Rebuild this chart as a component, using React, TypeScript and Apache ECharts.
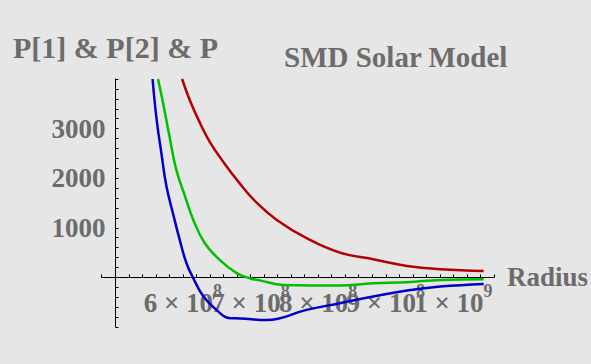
import React, { useEffect, useRef } from "react";
import * as echarts from "echarts";

// Radius values (m) and pressure values
const redRadius = [5.985e8, 6.1e8, 6.25e8, 6.39e8, 6.59e8, 6.84e8, 7.08e8, 7.38e8, 7.82e8, 8.31e8, 8.8e8, 9.3e8, 9.79e8, 10.43e8];
const redValues = [4000, 3568, 3109, 2738, 2334, 1885, 1512, 1159, 790, 500, 367, 232, 165, 131];

const greenRadius = [5.63e8, 5.705e8, 5.8e8, 5.9e8, 6.03e8, 6.15e8, 6.32e8, 6.54e8, 6.79e8, 6.98e8, 7.13e8, 7.48e8, 8.31e8, 8.8e8, 9.3e8, 9.79e8, 10.43e8];
const greenValues = [4000, 3512, 2838, 2167, 1629, 1159, 689, 353, 85, -16, -60, -151, -165, -117, -97, -50, -36];

const blueRadius = [5.55e8, 5.61e8, 5.68e8, 5.755e8, 5.85e8, 5.95e8, 6.05e8, 6.15e8, 6.3e8, 6.49e8, 6.69e8, 6.84e8, 7.23e8, 7.82e8, 8.31e8, 8.8e8, 9.3e8, 9.79e8, 10.43e8];
const blueValues = [4000, 3175, 2504, 1831, 1294, 756, 286, -16, -387, -655, -823, -827, -857, -655, -520, -387, -266, -185, -131];

const xTickValues = [6e8, 7e8, 8e8, 9e8, 1e9];
const xTickMantissas = ["6", "7", "8", "9", "1"];
const xTickExponents = ["8", "8", "8", "8", "9"];
const yTickLabels = [1000, 2000, 3000];

const TEXT = "#6c6c6c";
const FONT = "Liberation Serif";

function zip(xs: number[], ys: number[]) {
  return xs.map((x, i) => [x, ys[i]]);
}

export default function App() {
  const ref = useRef<HTMLDivElement>(null);
  useEffect(() => {
    if (!ref.current) return;
    const chart = echarts.init(ref.current, null, { renderer: "svg" });
    const line = (name: string, color: string, xs: number[], ys: number[]) => ({
      name,
      type: "line",
      xAxisIndex: 0,
      yAxisIndex: 0,
      data: zip(xs, ys),
      showSymbol: false,
      smooth: 0.45,
      clip: true,
      lineStyle: { color, width: 2.5 },
      itemStyle: { color },
    });
    chart.setOption({
      animation: false,
      backgroundColor: "#e6e6e6",
      title: {
        text: "SMD Solar Model",
        left: 284,
        top: 42,
        padding: 0,
        textStyle: { fontFamily: FONT, fontWeight: "bold", fontSize: 29, color: TEXT },
      },
      grid: [
        // plotting area (from -1000 to 4000)
        { left: 101.7, top: 79, width: 393.5, height: 248 },
        // vertical axis
        { left: 115.5, top: 79, width: 1, height: 248 },
        // horizontal axis, whose bottom edge is the zero line
        { left: 101.7, top: 79, width: 393.5, height: 198.4 },
      ],
      xAxis: [
        { gridIndex: 0, type: "value", min: 4.8e8, max: 10.6e8, show: false },
        { gridIndex: 1, type: "value", min: 0, max: 1, show: false },
        {
          gridIndex: 2,
          type: "value",
          position: "bottom",
          min: 4.8e8,
          max: 10.6e8,
          interval: 2e7,
          axisLine: { onZero: false, lineStyle: { color: "#000", width: 1 } },
          axisTick: { inside: true, length: 3, lineStyle: { color: "#000" } },
          splitLine: { show: false },
          axisLabel: {
            margin: 5,
            formatter: (v: number) => {
              const i = xTickValues.findIndex((t) => Math.abs(t - v) < 1e6);
              if (i < 0) return "";
              return `{m|${xTickMantissas[i]} × 10}{e|${xTickExponents[i]}}`;
            },
            rich: {
              m: { fontFamily: FONT, fontWeight: "bold", fontSize: 27, color: TEXT, verticalAlign: "bottom", lineHeight: 34 },
              e: { fontFamily: FONT, fontWeight: "bold", fontSize: 18, color: TEXT, verticalAlign: "top", lineHeight: 6 },
            },
          },
          name: "Radius",
          nameLocation: "end",
          nameGap: 13,
          nameTextStyle: { fontFamily: FONT, fontWeight: "bold", fontSize: 27, color: TEXT, verticalAlign: "middle" },
        },
      ],
      yAxis: [
        { gridIndex: 0, type: "value", min: -1000, max: 4000, show: false },
        {
          gridIndex: 1,
          type: "value",
          min: -1000,
          max: 4000,
          interval: 200,
          position: "left",
          axisLine: { show: true, onZero: false, lineStyle: { color: "#000", width: 1 } },
          axisTick: { show: true, inside: true, length: 3, lineStyle: { color: "#000" } },
          splitLine: { show: false },
          axisLabel: {
            margin: 10,
            fontFamily: FONT,
            fontWeight: "bold",
            fontSize: 27,
            color: TEXT,
            formatter: (v: number) => (yTickLabels.includes(v) ? String(v) : ""),
          },
          name: "P[1] & P[2] & P",
          nameLocation: "end",
          nameGap: 17,
          nameTextStyle: { fontFamily: FONT, fontWeight: "bold", fontSize: 30, color: TEXT },
        },
        { gridIndex: 2, type: "value", min: 0, max: 4000, show: false },
      ],
      series: [
        line("P[1]", "#b40000", redRadius, redValues),
        line("P[2]", "#00bf00", greenRadius, greenValues),
        line("P", "#0000c8", blueRadius, blueValues),
      ],
    });
    return () => chart.dispose();
  }, []);
  return <div ref={ref} style={{ position: "fixed", left: 0, top: 0, width: 591, height: 364 }} />;
}
